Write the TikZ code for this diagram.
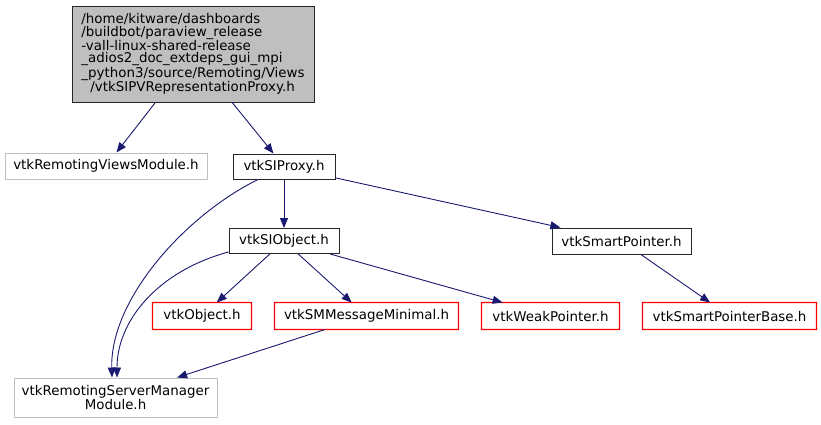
\documentclass[tikz,border=0pt]{standalone}
\usepackage{fontspec}
\setmainfont{DejaVu Sans}
\usetikzlibrary{arrows.meta,calc}
\definecolor{edgeblue}{HTML}{191970}
\definecolor{greyb}{HTML}{BFBFBF}
\definecolor{redb}{HTML}{FF0000}
\definecolor{darkb}{HTML}{262626}
\begin{document}
\begin{tikzpicture}[x=1pt,y=-1pt,
  box/.style={line width=1pt, inner sep=0pt, anchor=center,
    font=\fontsize{13.4}{12.3}\selectfont},
  blackbox/.style={box, draw=darkb},
  greybox/.style={box, draw=greyb},
  redbox/.style={box},
  redframe/.style={fill=redb, even odd rule},
  edge/.style={draw=edgeblue, line width=0.9pt, -{Triangle[length=10pt,width=8pt]}},
]
\useasboundingbox (0,0) rectangle (821,424);
\fill[white] (0,0) rectangle (821,424);

\node[blackbox, fill=greyb, minimum width=242pt, minimum height=96pt, align=left] (top) at (193,54)
  {/home/kitware/dashboards\\/buildbot/paraview\_release\\-vall-linux-shared-release\\\_adios2\_doc\_extdeps\_gui\_mpi\\\_python3/source/Remoting/Views\\\hspace*{9pt}/vtkSIPVRepresentationProxy.h};
\node[greybox, minimum width=202pt, minimum height=26pt] (remv) at (106,166) {vtkRemotingViewsModule.h};
\node[blackbox, minimum width=102pt, minimum height=25pt] (sip) at (284,166.5) {vtkSIProxy.h};
\node[blackbox, minimum width=110pt, minimum height=25pt] (sio) at (284,241) {vtkSIObject.h};
\node[blackbox, minimum width=139pt, minimum height=26pt] (smp) at (621.5,241) {vtkSmartPointer.h};
\node[redbox, minimum width=98pt, minimum height=26pt] (obj) at (202,316) {vtkObject.h};
\node[redbox, minimum width=183pt, minimum height=26pt] (smm) at (366.5,316) {vtkSMMessageMinimal.h};
\node[redbox, minimum width=137pt, minimum height=26pt] (wp) at (550.5,316) {vtkWeakPointer.h};
\node[redbox, minimum width=173pt, minimum height=26pt] (spb) at (729.5,316) {vtkSmartPointerBase.h};
\node[greybox, minimum width=203pt, minimum height=39pt, align=center] (rsm) at (115.5,397.5) {vtkRemotingServerManager\\Module.h};

\foreach \n in {obj,smm,wp,spb}
  \path[redframe] ($(\n.south west)+(-0.6,0.6)$) rectangle ($(\n.north east)+(0.6,-0.6)$)
                  ($(\n.south west)+(0.6,-0.6)$) rectangle ($(\n.north east)+(-0.6,0.6)$);

\draw[edge] (top) -- (remv);
\draw[edge] (top) -- (sip);
\draw[edge] (sip) -- (sio);
\draw[edge] (sip) -- (smp);
\draw[edge] ($(sip.south)+(-26,0)$) .. controls ($(sip.south)+(-99,36)$) and ($(rsm.north)+(-5.5,-78)$) .. ($(rsm.north)+(-3.5,0)$);
\draw[edge] ($(sio.south west)+(0,-2)$) .. controls ($(sio.south west)+(-69,16.5)$) and ($(rsm.north)+(1.5,-58)$) .. ($(rsm.north)+(1.5,0)$);
\draw[edge] (sio) -- (obj);
\draw[edge] (sio) -- (smm);
\draw[edge] (sio) -- (wp);
\draw[edge] (smm) -- (rsm);
\draw[edge] (smp) -- (spb);
\end{tikzpicture}
\end{document}
